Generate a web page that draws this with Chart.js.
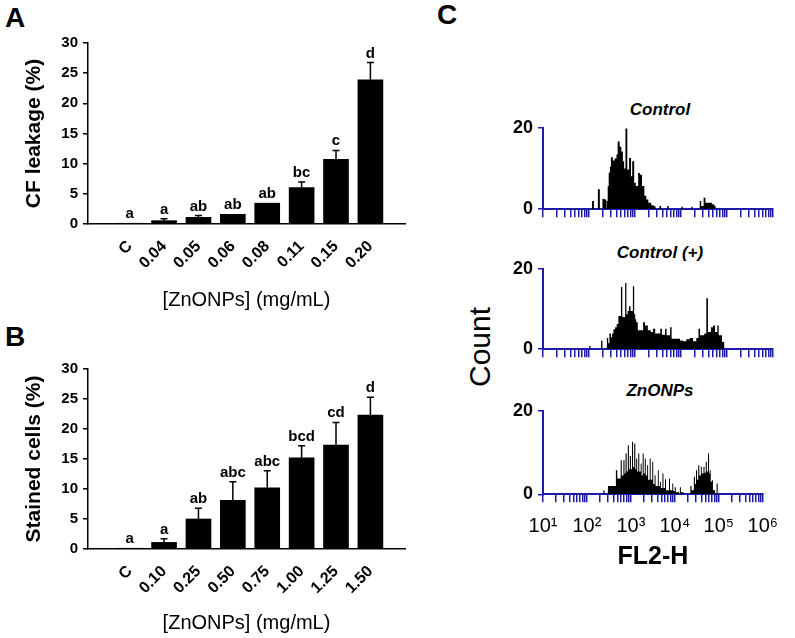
<!DOCTYPE html>
<html>
<head>
<meta charset="utf-8">
<script src="https://cdn.jsdelivr.net/npm/chart.js@4.4.1/dist/chart.umd.min.js"></script>
<style>
  body { margin: 0; background: #fff; width: 795px; height: 638px; position: relative; overflow: hidden;
         font-family: "Liberation Sans", Arial, sans-serif; color: #000; }
  .box { position: absolute; }
  .panel { position: absolute; font-weight: bold; font-size: 28px; line-height: 28px; }
  .htitle { position: absolute; width: 200px; left: 560px; text-align: center; font-weight: bold;
            font-style: italic; font-size: 17px; line-height: 20px; }
  .count { position: absolute; left: 420px; top: 329px; width: 120px; height: 36px; line-height: 36px;
           text-align: center; font-size: 30px; transform: rotate(-90deg); }
</style>
</head>
<body>
<div class="panel" style="left:5px;top:4px">A</div>
<div class="panel" style="left:5px;top:323px">B</div>
<div class="panel" style="left:437px;top:1px">C</div>

<div class="box" style="left:0;top:0;width:420px;height:315px"><canvas id="chartA"></canvas></div>
<div class="box" style="left:0;top:320px;width:420px;height:318px"><canvas id="chartB"></canvas></div>

<div class="htitle" style="top:100px">Control</div>
<div class="htitle" style="top:243px">Control (+)</div>
<div class="htitle" style="top:381px">ZnONPs</div>
<div class="count">Count</div>

<div class="box" style="left:490px;top:100px;width:300px;height:125px"><canvas id="histCtrl"></canvas></div>
<div class="box" style="left:490px;top:240px;width:300px;height:125px"><canvas id="histPos"></canvas></div>
<div class="box" style="left:490px;top:380px;width:300px;height:200px"><canvas id="histZn"></canvas></div>

<script>
// panel A - CF leakage
var catsA = ['C', '0.04', '0.05', '0.06', '0.08', '0.11', '0.15', '0.20'];
var leakA = [0.1, 0.55, 1.1, 1.6, 3.45, 6.05, 10.7, 23.9];
var leakErrA = [0, 0.3, 0.3, 0, 0, 0.9, 1.5, 2.85];
var lettersA = ['a', 'a', 'ab', 'ab', 'ab', 'bc', 'c', 'd'];

// panel B - stained cells
var catsB = ['C', '0.10', '0.25', '0.50', '0.75', '1.00', '1.25', '1.50'];
var stainB = [0.1, 1.1, 5.0, 8.1, 10.2, 15.2, 17.3, 22.3];
var stainErrB = [0, 0.6, 1.8, 3.1, 2.85, 2.0, 3.8, 3.0];
var lettersB = ['a', 'a', 'ab', 'abc', 'abc', 'bcd', 'cd', 'd'];

// panel C - FL2-H histograms (count holds from each channel to the next one)
var ctrlFl = [100, 116, 128, 156, 172, 196, 216, 238, 243, 255, 268, 285, 300, 330, 360, 395, 420, 465, 505, 545,
              580, 620, 680, 745, 820, 870, 960, 1040, 1170, 1290, 1420, 1600, 1760, 1950, 2250, 2550, 2800,
              3400, 3700, 5000, 5400, 10200, 11000, 16800, 18000, 25500, 27500, 31000, 34000, 47000, 53000, 57000];
var ctrlCount = [0, 2, 0, 4.9, 0, 2.6, 2.4, 0, 2, 5.7, 9, 10.5, 12.8, 12, 12.5, 13.5, 16.7, 15.4, 14.2, 11.8,
                 10, 19.9, 9.8, 12.6, 8.1, 11.8, 6.5, 5.7, 8.9, 8.5, 5.7, 3.3, 2.4, 1.6, 1.0, 0.7, 0,
                 0.8, 0, 0.8, 0, 0.6, 0, 0.6, 0, 2, 0.8, 2.8, 1.6, 1.2, 0.8, 0];

var posFl = [100, 101, 108, 183, 196, 245, 262, 278, 300, 318, 340, 370, 400, 435, 495, 530, 610, 650, 690, 740,
             800, 900, 960, 1010, 1060, 1150, 1400, 1500, 1650, 1900, 2200, 2450, 2750, 3550, 3850, 4500, 4850,
             5800, 6250, 9500, 11000, 13000, 15500, 18300, 21500, 24000, 26000, 32000, 35500, 38500, 45000,
             50000, 55000, 61500, 66000, 78000, 88000];
var posCount = [0, 0.8, 0, 2.1, 0, 2.8, 1.5, 3.9, 3.0, 3.9, 5.0, 5.5, 6.3, 8.3, 15.5, 8, 16.5, 8.7, 9.5, 10.7,
                9.5, 15.7, 8.7, 7.5, 6.7, 4.7, 4.7, 6.7, 5.9, 4.7, 4.3, 5.1, 3.9, 5.1, 3.6, 5.1, 3.5,
                5.5, 2.6, 2.2, 2.0, 2.5, 2.8, 2.0, 2.8, 5.1, 3.5, 3.9, 12.7, 4.3, 5.5,
                5.9, 4.3, 5.9, 3.5, 1.8, 0];

var znFl = [100, 236, 252, 300, 455, 490, 530, 585, 620, 675, 715, 755, 800, 850, 900, 945, 1000, 1060, 1120,
            1190, 1260, 1320, 1390, 1470, 1550, 1670, 1750, 1850, 1950, 2070, 2180, 2340, 2460, 2680, 2820, 3060,
            3220, 3460, 3640, 4100, 4300, 4580, 4800, 5220, 5500, 5980, 6300, 7350, 7750, 8750, 9200, 9950,
            10500, 11700, 12300, 13000, 13700, 15500, 16200, 22500, 24000, 27000, 28600, 30300, 32000, 34000,
            36000, 39000, 41000, 44800, 47300, 50500, 53300, 56700, 60000, 62300, 65500, 69700, 73500, 79000,
            82000, 89000, 95000];
var znCount = [0, 0.9, 0, 2.0, 5.8, 3.8, 3.8, 8.2, 4.5, 8.2, 5.0, 9.8, 5.5, 11.8, 6.0, 9.2, 6.0, 12.6, 6.5,
               12.2, 6.0, 8.6, 5.5, 9.8, 5.5, 7.4, 4.5, 9.8, 5.0, 8.6, 4.5, 7.0, 3.5, 8.6, 3.5, 7.8,
               2.5, 4.6, 2.0, 5.8, 2.0, 3.0, 1.5, 5.0, 1.5, 3.6, 1.0, 3.8, 1.0, 2.6, 0.8, 1.7,
               0.5, 0.6, 0, 1.7, 0.5, 0.4, 0, 2.0, 1.0, 4.2, 2.5, 5.8, 3.5, 7.0,
               4.5, 6.6, 5.0, 6.6, 5.2, 7.8, 5.5, 9.8, 5.0, 5.8, 3.0, 3.4, 1.0, 1.0,
               0, 2.6, 0];

var decades = [10, 100, 1000, 10000, 100000, 1000000];
var decadeLabels = ['10¹', '10²', '10³', '10⁴', '10⁵', '10⁶'];
var countTicks = [0, 20];

Chart.defaults.font.family = '"Liberation Sans", Arial, sans-serif';
Chart.defaults.color = '#000';

var blue = '#1c1ca8';

function barChart(id, cats, vals, errs, letters, yTitle, padTop, xHeight) {
  var errPlugin = {
    id: 'errLabels',
    afterDatasetsDraw: function(chart) {
      var c = chart.ctx, y = chart.scales.y;
      chart.getDatasetMeta(0).data.forEach(function(bar, i) {
        var top = y.getPixelForValue(vals[i] + errs[i]);
        c.save();
        c.strokeStyle = '#000';
        c.lineWidth = 1.5;
        if (errs[i] > 0) {
          c.beginPath();
          c.moveTo(bar.x, bar.y);
          c.lineTo(bar.x, top);
          c.moveTo(bar.x - 3.5, top);
          c.lineTo(bar.x + 3.5, top);
          c.stroke();
        }
        c.fillStyle = '#000';
        c.font = 'bold 15px "Liberation Sans", Arial, sans-serif';
        c.textAlign = 'center';
        c.fillText(letters[i], bar.x, top - 5);
        c.restore();
      });
    }
  };

  return new Chart(document.getElementById(id), {
    type: 'bar',
    data: {
      datasets: [{
        data: vals.map(function(v, i) { return { x: i, y: v }; }),
        backgroundColor: '#000',
        barThickness: 25
      }]
    },
    options: {
      animation: false,
      responsive: true,
      maintainAspectRatio: false,
      layout: { padding: { top: padTop, right: 15, left: 0, bottom: 0 } },
      plugins: { legend: { display: false }, tooltip: { enabled: false } },
      scales: {
        x: {
          type: 'linear',
          min: -0.636,
          max: 7.43,
          afterBuildTicks: function(s) { s.ticks = cats.map(function(c, i) { return { value: i }; }); },
          afterFit: function(s) { s.height = xHeight; },
          grid: { display: false },
          border: { color: '#000', width: 1.5 },
          ticks: {
            callback: function(v) { return cats[v]; },
            minRotation: 45, maxRotation: 45, autoSkip: false, padding: 5,
            font: { weight: 'bold', size: 16 }
          },
          title: { display: true, text: '[ZnONPs] (mg/mL)', font: { size: 20 }, padding: { top: 0, bottom: 3 } }
        },
        y: {
          min: 0,
          max: 30,
          afterFit: function(s) { s.width = 88; },
          ticks: { stepSize: 5, padding: 5, font: { weight: 'bold', size: 15 } },
          grid: { drawOnChartArea: false, tickLength: 5, color: '#000', lineWidth: 1.5 },
          border: { color: '#000', width: 1.5 },
          title: { display: true, text: yTitle, font: { weight: 'bold', size: 21 }, padding: { top: 22, bottom: 0 } }
        }
      }
    },
    plugins: [errPlugin]
  });
}

function histChart(id, fl, counts, padTop, xHeight, bottomAxis) {
  return new Chart(document.getElementById(id), {
    type: 'line',
    data: {
      datasets: [{
        data: fl.map(function(x, i) { return { x: x, y: counts[i] }; }),
        stepped: true,
        fill: 'origin',
        backgroundColor: '#000',
        borderColor: 'rgba(0,0,0,0)',
        borderWidth: 0,
        pointRadius: 0
      }]
    },
    options: {
      animation: false,
      responsive: true,
      maintainAspectRatio: false,
      layout: { padding: { top: padTop, right: 17, left: 0, bottom: 0 } },
      plugins: { legend: { display: false }, tooltip: { enabled: false } },
      scales: {
        x: {
          type: 'logarithmic',
          min: 10,
          max: 1000000,
          afterBuildTicks: function(s) {
            var t = [];
            decades.forEach(function(d, j) {
              if (j === decades.length - 1) { t.push({ value: d }); return; }
              for (var k = 1; k < 10; k++) t.push({ value: k * d });
            });
            s.ticks = t;
          },
          afterFit: function(s) { s.height = xHeight; },
          grid: { drawOnChartArea: false, tickLength: 8, color: blue, lineWidth: 1.5 },
          border: { color: blue, width: 2 },
          ticks: {
            autoSkip: false, maxRotation: 0, minRotation: 0, padding: 12,
            font: { size: 20 },
            callback: function(v) {
              var j = decades.indexOf(v);
              return bottomAxis && j >= 0 ? decadeLabels[j] : '';
            }
          },
          title: { display: bottomAxis, text: 'FL2-H', font: { weight: 'bold', size: 25 }, padding: { top: 0, bottom: 8 } }
        },
        y: {
          min: 0,
          max: 20,
          afterBuildTicks: function(s) { s.ticks = countTicks.map(function(v) { return { value: v }; }); },
          afterFit: function(s) { s.width = 53; },
          ticks: { padding: 5, font: { weight: 'bold', size: 18 } },
          grid: { drawOnChartArea: false, tickLength: 5, color: blue, lineWidth: 1.5 },
          border: { color: blue, width: 2 }
        }
      }
    }
  });
}

barChart('chartA', catsA, leakA, leakErrA, lettersA, 'CF leakage (%)', 43, 91);
barChart('chartB', catsB, stainB, stainErrB, lettersB, 'Stained cells (%)', 49, 89);
histChart('histCtrl', ctrlFl, ctrlCount, 28, 13.3, false);
histChart('histPos', posFl, posCount, 29, 12.3, false);
histChart('histZn', znFl, znCount, 31, 85.7, true);
</script>
</body>
</html>
